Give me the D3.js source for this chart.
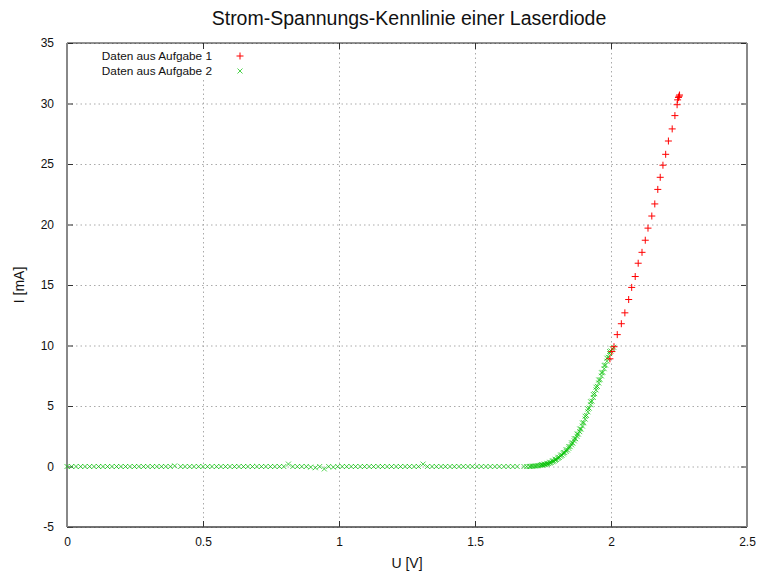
<!DOCTYPE html>
<html>
<head>
<meta charset="utf-8">
<script src="https://cdn.jsdelivr.net/npm/d3@7"></script>
<style>
  body { margin: 0; background: #fff; }
  svg { display: block; font-family: "Liberation Sans", Arial, sans-serif; }
</style>
</head>
<body>
<div id="chart"></div>
<script>
// Data
const xTicks = [0, 0.5, 1, 1.5, 2, 2.5];
const yTicks = [-5, 0, 5, 10, 15, 20, 25, 30, 35];

// Aufgabe 1 (rot, +)
const u1 = [1.996, 2.003, 2.011, 2.023, 2.038, 2.051, 2.065, 2.076, 2.089, 2.100, 2.114, 2.126, 2.136,
    2.150, 2.161, 2.172, 2.181, 2.191, 2.201, 2.211, 2.225, 2.235, 2.243, 2.245, 2.248, 2.250, 2.252];
const i1 = [8.9, 9.5, 9.9, 10.9, 11.8, 12.7, 13.8, 14.8, 15.7, 16.8, 17.7, 18.7, 19.7,
    20.7, 21.7, 22.9, 23.9, 24.9, 25.8, 26.9, 27.9, 29.0, 29.9, 30.3, 30.5, 30.6, 30.7];

// Aufgabe 2 (gruen, x)
const u2 = [
    0, 0.017, 0.033, 0.050, 0.066, 0.083, 0.099, 0.116, 0.132, 0.149, 0.165, 0.182, 0.198, 0.215,
    0.231, 0.248, 0.264, 0.281, 0.297, 0.314, 0.330, 0.347, 0.363, 0.380, 0.396, 0.418, 0.434, 0.451,
    0.467, 0.484, 0.500, 0.517, 0.533, 0.550, 0.566, 0.583, 0.599, 0.616, 0.632, 0.649, 0.665, 0.682,
    0.698, 0.715, 0.731, 0.748, 0.764, 0.781, 0.797, 0.814, 0.830, 0.847, 0.863, 0.880, 0.896, 0.913,
    0.929, 0.946, 0.962, 0.979, 0.995, 1.012, 1.028, 1.045, 1.061, 1.078, 1.094, 1.111, 1.127, 1.144,
    1.160, 1.177, 1.193, 1.210, 1.226, 1.243, 1.259, 1.276, 1.292, 1.309, 1.325, 1.342, 1.358, 1.375,
    1.391, 1.408, 1.424, 1.441, 1.457, 1.474, 1.490, 1.507, 1.523, 1.540, 1.556, 1.573, 1.589, 1.606,
    1.622, 1.639, 1.655, 1.680, 1.690,
    1.700, 1.705, 1.710, 1.715, 1.720, 1.725, 1.730, 1.735, 1.740, 1.745, 1.750, 1.755, 1.760, 1.765,
    1.770, 1.775, 1.780, 1.785, 1.790, 1.795, 1.800, 1.805, 1.810, 1.815, 1.820, 1.825, 1.830, 1.835,
    1.840, 1.845, 1.850, 1.855, 1.860, 1.865, 1.870, 1.875, 1.880, 1.885, 1.890, 1.895, 1.900, 1.905,
    1.910, 1.915, 1.920, 1.925, 1.930, 1.935, 1.940, 1.945, 1.950, 1.955, 1.960, 1.965, 1.970, 1.975,
    1.980, 1.985, 1.990, 1.995, 2.000, 2.005, 2.010,
    1.745, 1.755, 1.765, 1.775, 1.785, 1.795, 1.805, 1.815, 1.825, 1.835, 1.845, 1.855, 1.865, 1.875,
    1.885, 1.895, 1.905, 1.915, 1.925, 1.935, 1.945, 1.955, 1.965, 1.975, 1.985, 1.995
];
const i2 = [
    0, 0, 0, 0, 0, 0, 0, 0, 0, 0, 0, 0, 0, 0,
    0, 0, 0, 0, 0, 0, 0, 0, 0, 0, 0.05, 0, 0, 0,
    0, 0, 0, 0, 0, 0, 0, 0, 0, 0, 0, 0, 0, 0,
    0, 0, 0, 0, 0, 0, 0, 0.2, 0, 0, 0, 0, -0.05, -0.1,
    0, -0.2, 0, -0.05, 0, 0, 0, 0, 0, 0, 0, 0, 0, 0,
    0, 0, 0, 0, 0, 0, 0, 0, 0, 0.2, 0, 0, 0, 0,
    0, 0, 0, 0, 0, 0, 0, 0, 0, 0, 0, 0, 0, 0,
    0, 0, 0, 0, 0,
    0.00, 0.01, 0.02, 0.03, 0.04, 0.05, 0.06, 0.08, 0.09, 0.11, 0.13, 0.15, 0.17, 0.20,
    0.24, 0.28, 0.33, 0.39, 0.45, 0.51, 0.58, 0.66, 0.75, 0.84, 0.94, 1.04, 1.15, 1.25,
    1.37, 1.50, 1.64, 1.79, 1.94, 2.12, 2.30, 2.49, 2.68, 2.88, 3.10, 3.34, 3.62, 3.92,
    4.22, 4.52, 4.82, 5.10, 5.40, 5.70, 6.02, 6.33, 6.62, 6.90, 7.18, 7.48, 7.78, 8.08,
    8.38, 8.70, 9.02, 9.33, 9.55, 9.72, 9.85,
    0.15, 0.20, 0.26, 0.35, 0.47, 0.60, 0.76, 0.95, 1.15, 1.38, 1.65, 1.95, 2.30, 2.68,
    3.10, 3.60, 4.15, 4.75, 5.35, 5.95, 6.55, 7.15, 7.75, 8.35, 8.95, 9.50
];

const width = 757, height = 572;
const margin = { top: 43, right: 10, bottom: 45, left: 67 };

const svg = d3.select("#chart").append("svg")
    .attr("width", width)
    .attr("height", height);

const x = d3.scaleLinear().domain([0, 2.5]).range([margin.left, width - margin.right]);
const y = d3.scaleLinear().domain([-5, 35]).range([height - margin.bottom, margin.top]);
const plotW = x(2.5) - x(0), plotH = y(-5) - y(35);
const fmt = d => String(d);   // plain hyphen for negatives, like gnuplot

// Grid
svg.append("g")
    .attr("transform", `translate(0,${y(-5)})`)
    .call(d3.axisBottom(x).tickValues(xTicks).tickSize(-plotH).tickFormat(""))
    .call(g => g.select(".domain").remove())
    .call(g => g.selectAll(".tick line").attr("stroke", "#aaa").attr("stroke-dasharray", "1.5,3"));

svg.append("g")
    .attr("transform", `translate(${x(0)},0)`)
    .call(d3.axisLeft(y).tickValues(yTicks).tickSize(-plotW).tickFormat(""))
    .call(g => g.select(".domain").remove())
    .call(g => g.selectAll(".tick line").attr("stroke", "#aaa").attr("stroke-dasharray", "1.5,3"));

// key area keeps the grid clear
svg.append("rect")
    .attr("x", x(0) + 2).attr("y", y(35) + 1)
    .attr("width", 182).attr("height", 33)
    .attr("fill", "#fff");

// Axes with inward ticks
const styleAxis = g => {
    g.select(".domain").remove();
    g.selectAll(".tick line").attr("stroke", "#333");
    g.selectAll(".tick text").attr("fill", "#111").attr("font-size", 12);
};

svg.append("g")
    .attr("transform", `translate(0,${y(-5)})`)
    .call(d3.axisBottom(x).tickValues(xTicks).tickSize(-6).tickPadding(10).tickFormat(fmt))
    .call(styleAxis);

svg.append("g")
    .attr("transform", `translate(0,${y(35)})`)
    .call(d3.axisTop(x).tickValues(xTicks).tickSize(-6).tickFormat(""))
    .call(styleAxis);

svg.append("g")
    .attr("transform", `translate(${x(0)},0)`)
    .call(d3.axisLeft(y).tickValues(yTicks).tickSize(-6).tickPadding(13).tickFormat(fmt))
    .call(styleAxis);

svg.append("g")
    .attr("transform", `translate(${x(2.5)},0)`)
    .call(d3.axisRight(y).tickValues(yTicks).tickSize(-6).tickFormat(""))
    .call(styleAxis);

// Frame
svg.append("line").attr("x1", x(0)).attr("x2", x(2.5)).attr("y1", y(35)).attr("y2", y(35))
    .attr("stroke", "#222").attr("stroke-width", 1);
svg.append("line").attr("x1", x(0)).attr("x2", x(2.5)).attr("y1", y(-5)).attr("y2", y(-5))
    .attr("stroke", "#444").attr("stroke-width", 1.5);
svg.append("line").attr("x1", x(0)).attr("x2", x(0)).attr("y1", y(35)).attr("y2", y(-5))
    .attr("stroke", "#888").attr("stroke-width", 2);
svg.append("line").attr("x1", x(2.5)).attr("x2", x(2.5)).attr("y1", y(35)).attr("y2", y(-5))
    .attr("stroke", "#888").attr("stroke-width", 2);

// Markers
const plusPath = "M-3.5,0H3.5M0,-3.5V3.5";
const crossPath = "M-2.5,-2.5L2.5,2.5M-2.5,2.5L2.5,-2.5";
const green = "#00c000", red = "#ff0000";

const data2 = u2.map((u, k) => ({ u, i: i2[k] }));
const data1 = u1.map((u, k) => ({ u, i: i1[k] }));

svg.append("g")
    .selectAll("path")
    .data(data2)
    .join("path")
    .attr("transform", d => `translate(${x(d.u)},${y(d.i)})`)
    .attr("d", crossPath)
    .attr("fill", "none")
    .attr("stroke", green)
    .attr("stroke-opacity", 0.7)
    .attr("stroke-width", 1);

svg.append("g")
    .selectAll("path")
    .data(data1)
    .join("path")
    .attr("transform", d => `translate(${x(d.u)},${y(d.i)})`)
    .attr("d", plusPath)
    .attr("fill", "none")
    .attr("stroke", red)
    .attr("stroke-width", 1);

// Legend
const legend = [
    { label: "Daten aus Aufgabe 1", path: plusPath, color: red },
    { label: "Daten aus Aufgabe 2", path: crossPath, color: green }
];
const lg = svg.append("g");
legend.forEach((d, k) => {
    const ly = 56 + k * 15;
    lg.append("text")
        .attr("x", 212).attr("y", ly)
        .attr("dy", "0.35em")
        .attr("text-anchor", "end")
        .attr("font-size", 11.8)
        .attr("fill", "#111")
        .text(d.label);
    lg.append("path")
        .attr("transform", `translate(240,${ly})`)
        .attr("d", d.path)
        .attr("fill", "none")
        .attr("stroke", d.color)
        .attr("stroke-opacity", k === 1 ? 0.7 : 1);
});

// Titles
svg.append("text")
    .attr("x", (x(0) + x(2.5)) / 2 + 2).attr("y", 25)
    .attr("text-anchor", "middle")
    .attr("font-size", 19.5)
    .attr("fill", "#111")
    .text("Strom-Spannungs-Kennlinie einer Laserdiode");

svg.append("text")
    .attr("x", (x(0) + x(2.5)) / 2).attr("y", 568)
    .attr("text-anchor", "middle")
    .attr("font-size", 14)
    .attr("fill", "#111")
    .text("U [V]");

svg.append("text")
    .attr("transform", `translate(24,${(y(35) + y(-5)) / 2}) rotate(-90)`)
    .attr("text-anchor", "middle")
    .attr("font-size", 14)
    .attr("fill", "#111")
    .text("I [mA]");
</script>
</body>
</html>
